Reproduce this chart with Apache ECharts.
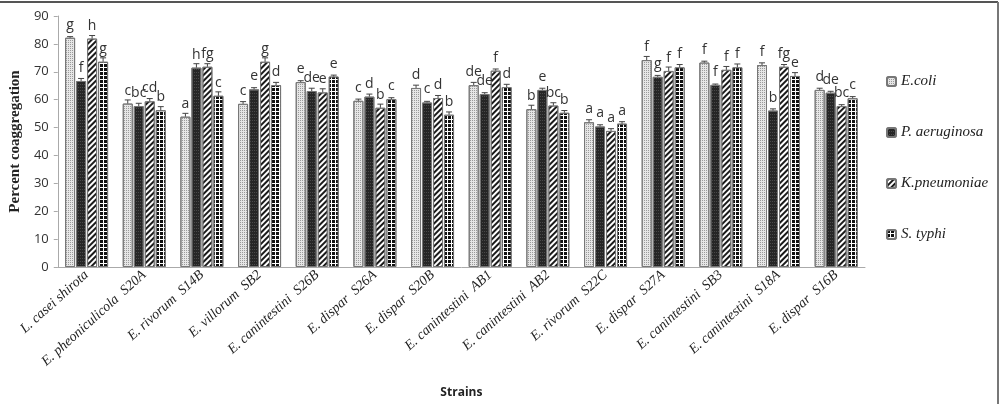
<!DOCTYPE html>
<html>
<head>
<meta charset="utf-8">
<script src="https://cdn.jsdelivr.net/npm/echarts@6/dist/echarts.min.js"></script>
<style>
  html, body { margin: 0; padding: 0; background: #fff; }
  #chart { width: 1001px; height: 404px; }
</style>
</head>
<body>
<div id="chart"></div>
<script>
const strains = [
  'L. casei shirota', 'E. pheoniculicola  S20A', 'E. rivorum  S14B', 'E. villorum  SB2',
  'E. canintestini  S26B', 'E. dispar  S26A', 'E. dispar  S20B', 'E. canintestini  AB1',
  'E. canintestini  AB2', 'E. rivorum  S22C', 'E. dispar  S27A', 'E. canintestini  SB3',
  'E. canintestini  S18A', 'E. dispar  S16B'
];
const seriesNames = ['E.coli', 'P. aeruginosa', 'K.pneumoniae', 'S. typhi'];

const eColi = [82.2, 58.6, 53.9, 58.5, 66.3, 59.6, 64.2, 65.2, 56.6, 51.9, 74.2, 73.3, 72.4, 63.5];
const pAeruginosa = [66.7, 57.7, 71.5, 63.7, 63.1, 61.1, 59.0, 62.0, 63.5, 50.4, 68.2, 65.3, 56.1, 62.5];
const kPneumoniae = [81.9, 59.4, 71.8, 73.6, 62.6, 57.1, 60.6, 70.4, 57.9, 48.8, 70.3, 70.7, 71.8, 57.7];
const sTyphi = [73.6, 56.2, 61.4, 65.2, 68.3, 60.2, 54.6, 64.5, 55.3, 51.4, 71.6, 71.6, 68.5, 60.5];

const eColiErr = [0.4, 1.3, 1.2, 0.8, 0.5, 0.6, 1.0, 1.0, 1.4, 0.9, 1.3, 0.5, 0.8, 0.6];
const pAeruginosaErr = [0.9, 1.0, 1.4, 0.6, 1.0, 0.9, 0.4, 0.5, 0.6, 0.6, 0.5, 0.3, 0.6, 0.5];
const kPneumoniaeErr = [1.1, 1.0, 1.1, 1.4, 1.3, 1.3, 0.9, 0.6, 1.0, 0.8, 1.4, 1.2, 0.8, 0.5];
const sTyphiErr = [1.4, 1.3, 1.4, 1.0, 0.5, 0.5, 1.0, 1.0, 0.8, 0.7, 1.0, 1.2, 1.2, 0.6];

const eColiLetters = ['g', 'c', 'a', 'c', 'e', 'c', 'd', 'de', 'b', 'a', 'f', 'f', 'f', 'd'];
const pAeruginosaLetters = ['f', 'bc', 'h', 'e', 'de', 'd', 'c', 'de', 'e', 'a', 'g', 'f', 'b', 'de'];
const kPneumoniaeLetters = ['h', 'cd', 'fg', 'g', 'e', 'b', 'd', 'f', 'bc', 'a', 'f', 'f', 'fg', 'bc'];
const sTyphiLetters = ['g', 'b', 'c', 'd', 'e', 'c', 'b', 'd', 'b', 'a', 'f', 'f', 'e', 'c'];

const values = [eColi, pAeruginosa, kPneumoniae, sTyphi];
const errors = [eColiErr, pAeruginosaErr, kPneumoniaeErr, sTyphiErr];
const letters = [eColiLetters, pAeruginosaLetters, kPneumoniaeLetters, sTyphiLetters];

const BAR_W = 10, BAR_STEP = 11;

const styles = [
  { color: '#e6e6e6', decal: { symbol: 'rect', symbolSize: 1, color: '#9a9a9a', dashArrayX: [1, 1], dashArrayY: [1, 1] } },
  { color: '#262626', decal: { symbol: 'rect', symbolSize: 1, color: '#4a4a4a', dashArrayX: [1, 1], dashArrayY: [1, 2] } },
  { color: '#ffffff', decal: { symbol: 'rect', symbolSize: 1, color: '#1a1a1a', dashArrayX: [1, 0], dashArrayY: [2, 2], rotation: -Math.PI / 4 } },
  { color: '#ffffff', decal: { symbol: 'rect', symbolSize: 1, color: '#111', dashArrayX: [3, 1], dashArrayY: [3, 1] } }
];

const barSeries = values.map(function (vals, s) {
  return {
    name: seriesNames[s],
    type: 'bar',
    barWidth: BAR_W,
    barGap: '10%',
    data: vals,
    itemStyle: {
      color: styles[s].color,
      decal: styles[s].decal,
      borderColor: '#777',
      borderWidth: 1
    },
    label: {
      show: true,
      position: 'top',
      distance: 6,
      formatter: function (p) { return letters[s][p.dataIndex]; },
      fontFamily: 'Open Sans',
      fontSize: 14,
      color: '#333'
    }
  };
});

const errSeries = values.map(function (vals, s) {
  return {
    type: 'custom',
    z: 5,
    silent: true,
    data: vals.map(function (v, i) { return [i, v, v + errors[s][i]]; }),
    renderItem: function (params, api) {
      const base = api.coord([api.value(0), api.value(1)]);
      const top = api.coord([api.value(0), api.value(2)]);
      const x = base[0] + (s - 1.5) * BAR_STEP;
      const st = { stroke: '#444', lineWidth: 1 };
      return {
        type: 'group',
        children: [
          { type: 'line', shape: { x1: x, y1: base[1], x2: x, y2: top[1] }, style: st },
          { type: 'line', shape: { x1: x - 3, y1: top[1], x2: x + 3, y2: top[1] }, style: st }
        ]
      };
    }
  };
});

const chart = echarts.init(document.getElementById('chart'));
chart.setOption({
  backgroundColor: '#fff',
  animation: false,
  grid: { left: 51, right: 136, top: 16, bottom: 134 },
  legend: {
    orient: 'vertical',
    left: 881,
    top: 69,
    itemGap: 36,
    itemWidth: 9,
    itemHeight: 9,
    data: seriesNames,
    textStyle: { fontFamily: 'Liberation Serif', fontStyle: 'italic', fontSize: 15, color: '#222' }
  },
  xAxis: {
    type: 'category',
    data: strains,
    name: 'Strains',
    nameLocation: 'middle',
    nameGap: 120,
    nameTextStyle: { fontFamily: 'Open Sans', fontWeight: 'bold', fontSize: 12, color: '#222' },
    axisLine: { lineStyle: { color: '#aaa' } },
    axisTick: { length: 4, lineStyle: { color: '#aaa' } },
    axisLabel: {
      interval: 0,
      rotate: 42,
      margin: 6,
      fontFamily: 'Liberation Serif',
      fontStyle: 'italic',
      fontSize: 14,
      color: '#222'
    }
  },
  yAxis: {
    type: 'value',
    min: 0,
    max: 90,
    interval: 10,
    name: 'Percent coaggregation',
    nameLocation: 'middle',
    nameGap: 33,
    nameTextStyle: { fontFamily: 'Liberation Serif', fontWeight: 'bold', fontSize: 15, color: '#222' },
    axisLine: { show: true, lineStyle: { color: '#aaa' } },
    axisTick: { show: true, length: 4, lineStyle: { color: '#aaa' } },
    splitLine: { show: false },
    axisLabel: { fontFamily: 'Open Sans', fontSize: 13, color: '#333', margin: 9 }
  },
  graphic: [
    { type: 'line', shape: { x1: 0, y1: 2, x2: 998, y2: 2 }, style: { stroke: '#555', lineWidth: 2 } },
    { type: 'line', shape: { x1: 998, y1: 2, x2: 998, y2: 404 }, style: { stroke: '#777', lineWidth: 2 } }
  ],
  series: barSeries.concat(errSeries)
});
</script>
</body>
</html>
